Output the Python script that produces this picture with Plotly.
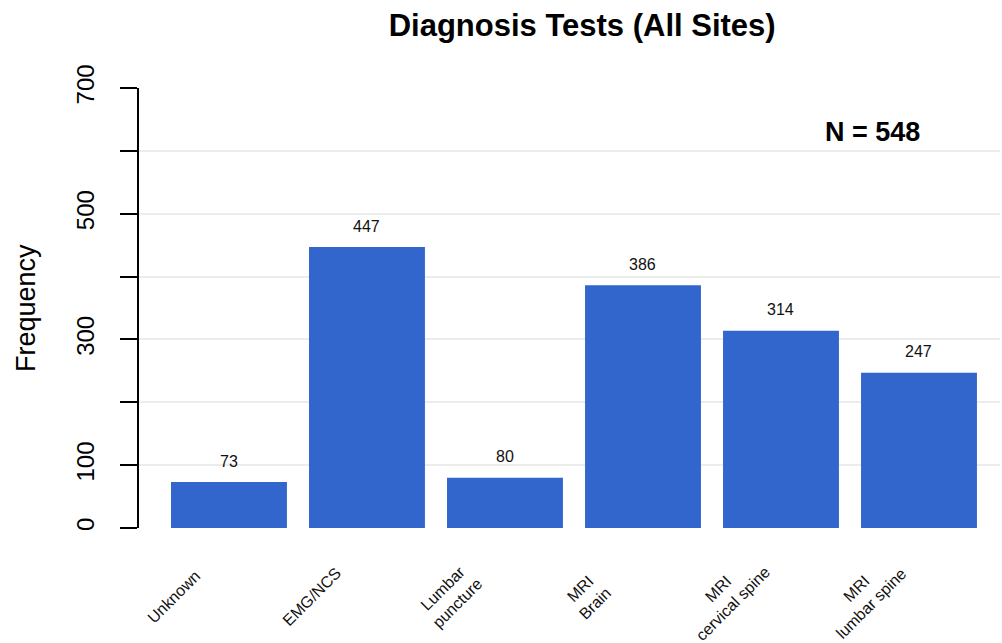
import plotly.graph_objects as go

categories = ["Unknown", "EMG/NCS", "Lumbar<br>puncture", "MRI<br>Brain",
              "MRI<br>cervical spine", "MRI<br>lumbar spine"]
frequency = [73, 447, 80, 386, 314, 247]
y_tickvals = [0, 100, 200, 300, 400, 500, 600, 700]
y_ticktext = ["0", "100", "", "300", "", "500", "", "700"]
n_total = 548
title_text = "Diagnosis Tests (All Sites)"

FONT = "Liberation Sans, Arial, sans-serif"
BAR = "#3366CC"

x_idx = list(range(len(categories)))

fig = go.Figure()
fig.add_trace(go.Bar(x=x_idx, y=frequency, marker=dict(color=BAR, line=dict(width=0)),
                     hoverinfo="skip"))

annotations = []
# value labels
for i, v in zip(x_idx, frequency):
    annotations.append(dict(x=i, y=v, xref="x", yref="y", text=str(v), showarrow=False,
                            yanchor="middle", xanchor="center", yshift=21,
                            font=dict(family=FONT, size=16, color="#111111")))
# category labels (rotated, centered lines)
for i, c in zip(x_idx, categories):
    annotations.append(dict(x=i, y=0, xref="x", yref="paper", text=c, showarrow=False,
                            textangle=-45, align="center", xanchor="center", yanchor="middle",
                            xshift=-55, yshift=-68, borderpad=0,
                            font=dict(family=FONT, size=16, color="#111111")))
# N annotation
annotations.append(dict(x=0.852, y=0.90, xref="paper", yref="paper",
                        text=f"<b>N = {n_total}</b>", showarrow=False,
                        xanchor="center", yanchor="middle",
                        font=dict(family=FONT, size=27, color="#000000")))
# y-axis title
annotations.append(dict(x=0, y=0.5, xref="paper", yref="paper", text="Frequency",
                        showarrow=False, textangle=-90, xanchor="center", yanchor="middle",
                        xshift=-113, font=dict(family=FONT, size=27, color="#000000")))

fig.update_layout(
    width=1002, height=643,
    margin=dict(l=139, r=2, t=88, b=115),
    paper_bgcolor="white", plot_bgcolor="white",
    showlegend=False,
    bargap=0.16,
    title=dict(text=f"<b>{title_text}</b>", x=0.581, xref="container", xanchor="center",
               y=1 - 25 / 643, yref="container", yanchor="middle",
               font=dict(family=FONT, size=31, color="#000000")),
    xaxis=dict(range=[-0.652, 5.587], showticklabels=False, showgrid=False,
               zeroline=False, showline=False, ticks=""),
    yaxis=dict(range=[0, 700], tickvals=y_tickvals, ticktext=y_ticktext,
               tickangle=-90, ticks="outside", ticklen=17, tickwidth=2, tickcolor="black",
               showline=True, linecolor="black", linewidth=2,
               showgrid=True, gridcolor="#ececec", gridwidth=2, zeroline=False,
               ticklabelstandoff=16,
               tickfont=dict(family=FONT, size=24, color="#000000")),
    annotations=annotations,
)

fig.write_html("out.html", config={"displayModeBar": False},
               post_script="document.body.style.margin='0';document.body.style.padding='0';")
